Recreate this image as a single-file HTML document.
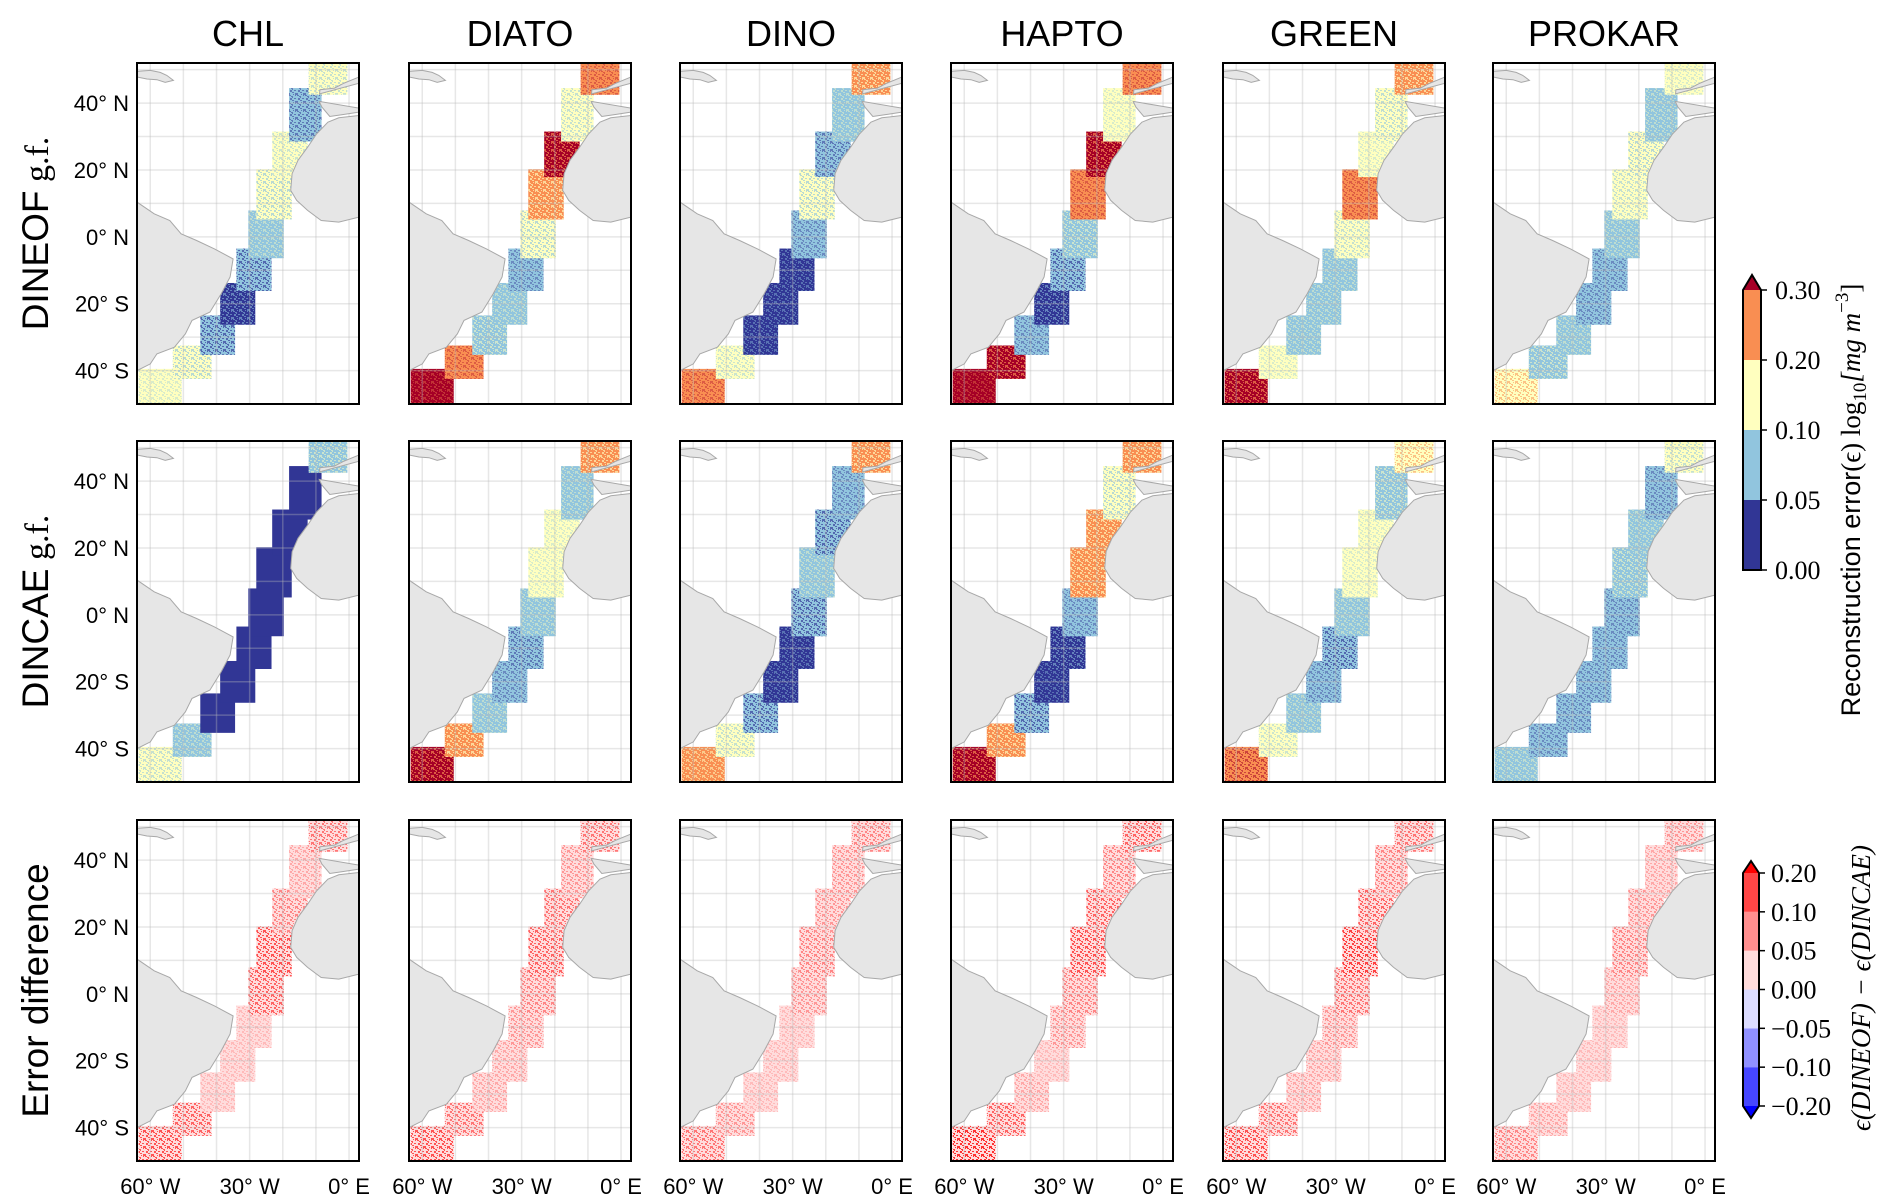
<!DOCTYPE html>
<html><head><meta charset="utf-8">
<style>
html,body{margin:0;padding:0;background:#fff;}
svg{display:block;}
.t{font-family:"Liberation Sans","DejaVu Sans",sans-serif;fill:#000;}
.s{font-family:"Liberation Serif","DejaVu Serif",serif;fill:#000;}
</style></head>
<body>
<svg id="fig" width="1892" height="1204" viewBox="0 0 1892 1204" xmlns="http://www.w3.org/2000/svg">
<defs id="defs"></defs>
</svg>
<script>
// ---- data ----
const columns = ["CHL","DIATO","DINO","HAPTO","GREEN","PROKAR"];
const rowLabels = ["DINEOF","DINCAE","Error difference"];
const latTicks = [40,20,0,-20,-40];
const latTickLabels = ["40° N","20° N","0° N","20° S","40° S"];
const lonTicks = [-60,-30,0];
const lonTickLabels = ["60° W","30° W","0° E"];
// tiles (bottom to top): lon/lat bounds
const tileLon0 = [-63.5,-53.2,-44.9,-38.9,-34,-30.4,-28,-23.2,-18.1,-12.2];
const tileLon1 = [-50.5,-41.5,-34.4,-28.3,-23.4,-19.7,-17.3,-12.5,-8.3,-0.5];
const tileLat0 = [-50.5,-42.5,-35.3,-26.3,-16.2,-6.4,5.2,17.9,28.5,42.5];
const tileLat1 = [-39.5,-32.5,-23.5,-13.8,-3.5,7.9,20.2,31.5,44.5,52];
// mean reconstruction error per tile, DINEOF
const dineofCHL   = [0.15,0.10,0.05,0.04,0.05,0.08,0.10,0.13,0.06,0.12];
const dineofDIATO = [0.35,0.25,0.09,0.08,0.07,0.10,0.20,0.30,0.12,0.25];
const dineofDINO  = [0.25,0.13,0.03,0.03,0.03,0.07,0.10,0.06,0.08,0.20];
const dineofHAPTO = [0.35,0.30,0.07,0.04,0.05,0.09,0.25,0.30,0.15,0.25];
const dineofGREEN = [0.30,0.15,0.08,0.08,0.08,0.12,0.25,0.15,0.11,0.20];
const dineofPROKAR= [0.18,0.09,0.08,0.07,0.07,0.08,0.12,0.10,0.08,0.15];
// DINCAE
const dincaeCHL   = [0.12,0.08,0.02,0.02,0.02,0.02,0.02,0.02,0.02,0.09];
const dincaeDIATO = [0.30,0.20,0.08,0.07,0.06,0.08,0.15,0.15,0.08,0.20];
const dincaeDINO  = [0.22,0.12,0.05,0.03,0.03,0.05,0.08,0.05,0.07,0.20];
const dincaeHAPTO = [0.30,0.20,0.05,0.03,0.04,0.07,0.20,0.20,0.10,0.20];
const dincaeGREEN = [0.28,0.13,0.08,0.07,0.05,0.08,0.15,0.15,0.09,0.18];
const dincaePROKAR= [0.08,0.07,0.07,0.07,0.07,0.07,0.09,0.08,0.07,0.12];
// error difference
const diffCHL   = [0.08,0.07,0.02,0.02,0.02,0.07,0.08,0.05,0.03,0.06];
const diffDIATO = [0.08,0.06,0.03,0.03,0.04,0.05,0.07,0.06,0.04,0.06];
const diffDINO  = [0.06,0.04,0.02,0.02,0.02,0.04,0.05,0.04,0.04,0.05];
const diffHAPTO = [0.10,0.07,0.03,0.02,0.04,0.05,0.08,0.07,0.05,0.07];
const diffGREEN = [0.08,0.06,0.03,0.03,0.04,0.06,0.09,0.07,0.05,0.06];
const diffPROKAR= [0.05,0.03,0.02,0.02,0.02,0.03,0.05,0.04,0.03,0.04];
const dineofAll = [dineofCHL,dineofDIATO,dineofDINO,dineofHAPTO,dineofGREEN,dineofPROKAR];
const dincaeAll = [dincaeCHL,dincaeDIATO,dincaeDINO,dincaeHAPTO,dincaeGREEN,dincaePROKAR];
const diffAll = [diffCHL,diffDIATO,diffDINO,diffHAPTO,diffGREEN,diffPROKAR];
const errTicks = [0.00,0.05,0.10,0.20,0.30];
const errTickLabels = ["0.00","0.05","0.10","0.20","0.30"];
const diffTicks = [-0.20,-0.10,-0.05,0.00,0.05,0.10,0.20];
const diffTickLabels = ["\u22120.20","\u22120.10","\u22120.05","0.00","0.05","0.10","0.20"];

// ---- layout ----
const NS="http://www.w3.org/2000/svg";
const svg=document.getElementById('fig');
const defs=document.getElementById('defs');
const colX=[137,409,680,951,1223,1493], rowY=[63,441,820], PW=222, PH=341;
const LON0=-64, LON1=3, LAT0=52, LAT1=-50;
function el(tag,attrs,parent){const e=document.createElementNS(NS,tag);for(const k in attrs)e.setAttribute(k,attrs[k]);(parent||svg).appendChild(e);return e;}
function xs(lon){return (lon-LON0)/(LON1-LON0)*PW;}
function ys(lat){return (LAT0-lat)/(LAT0-LAT1)*PH;}

const errColors=['#313695','#91c5de','#ffffbf','#f98e52','#a50026'];
function errClass(v){if(v<0.05)return 0;if(v<0.1)return 1;if(v<0.2)return 2;if(v<0.3)return 3;return 4;}
const errEdges=[0,0.05,0.1,0.2,0.3,0.4];
const diffColors=['#0000ff','#4646ff','#9090ff','#dcdcff','#ffdcdc','#ff8e8e','#ff4646','#ff0000'];

// speckle patterns
const speck=[[0,0,2,1],[3,1,1,2],[6,0,1,1],[1,3,2,2],[5,3,2,1],[0,6,1,2],[3,5,2,1],[6,6,2,2],[4,7,1,1],[2,1,1,1]];
function makePattern(id,color){
  const p=el('pattern',{id:id,width:8,height:8,patternUnits:'userSpaceOnUse'},defs);
  speck.forEach(s=>el('rect',{x:s[0],y:s[1],width:s[2],height:s[3],fill:color},p));
}
errColors.forEach((c,i)=>makePattern('pe'+i,c));
makePattern('pdr','#ff3030');

// land polygons [lon,lat]
const samer=[[-64,10.4],[-58.8,6.9],[-54.1,4.9],[-50.7,0.9],[-46,-1.1],[-40.6,-3.6],[-35,-6.6],[-35.9,-12],[-38.6,-17],[-42,-22.5],[-47.4,-25],[-49.4,-29],[-52.7,-33],[-58,-35],[-60,-38],[-64,-40]];
const africa=[[3,36.3],[-3.1,35.6],[-6.4,34.3],[-9.8,30.8],[-12.5,26.8],[-15.4,22.9],[-17.2,18.9],[-17.6,13.9],[-15.8,10.9],[-12.5,7.9],[-8.4,4.9],[-3.1,4.4],[3,5.9]];
const iberia=[[-8.9,42.8],[-8.8,44],[-4.4,44.5],[-1.5,46],[3,47.8],[3,37.3],[-1.7,36.6],[-5.8,36],[-8.2,38.8],[-9,40.5]];
const newf=[[-64,49.5],[-60,49.8],[-57,49.2],[-55,48.3],[-53,46.8],[-55.5,46.2],[-58,47],[-61,47.2],[-64,47.8]];

function drawPanel(r,c){
  const g=el('g',{transform:`translate(${colX[c]},${rowY[r]})`});
  
  
  const cid='clip'+r+'_'+c;
  const cp=el('clipPath',{id:cid},defs);el('rect',{x:0,y:0,width:PW,height:PH},cp);
  const inner=el('g',{'clip-path':`url(#${cid})`},g);
  el('rect',{x:0,y:0,width:PW,height:PH,fill:'#fff'},inner);
  const vals=r===0?dineofAll[c]:r===1?dincaeAll[c]:diffAll[c];
  for(let i=0;i<vals.length;i++){
    const x0=xs(tileLon0[i]),x1=xs(tileLon1[i]),y0=ys(tileLat1[i]),y1=ys(tileLat0[i]);
    const v=vals[i];
    let base,pat,op;
    if(r<2){const k=errClass(v);base=errColors[k];
      const f=Math.min(1,(v-errEdges[k])/(errEdges[k+1]-errEdges[k]));
      const nk=f>=0.5?Math.min(4,k+1):Math.max(0,k-1);
      pat='pe'+nk;op=0.35+Math.abs(f-0.5)*0.6;if(nk===k)op=0;}
    else{base='#ffdcdc';pat='pdr';op=Math.min(1,v/0.1);}
    const t=el('rect',{x:x0,y:y0,width:x1-x0,height:y1-y0,fill:base},inner);
    
    
    el('rect',{x:x0,y:y0,width:x1-x0,height:y1-y0,fill:`url(#${pat})`,opacity:op},inner);
  }
  // grid
  for(let lon=-60;lon<=0;lon+=10){el('line',{x1:xs(lon),x2:xs(lon),y1:0,y2:PH,stroke:'#bbb','stroke-opacity':0.35,'stroke-width':1.5},inner);}
  for(let lat=-40;lat<=50;lat+=10){el('line',{x1:0,x2:PW,y1:ys(lat),y2:ys(lat),stroke:'#bbb','stroke-opacity':0.35,'stroke-width':1.5},inner);}
  // land
  const lp=(pts)=>pts.map(p=>xs(p[0]).toFixed(1)+','+ys(p[1]).toFixed(1)).join(' ');
  const sa=samer.concat([[-70,-40],[-70,10.4]]);
  [[sa,'south-america'],[africa.concat([[10,5.9],[10,36.3]]),'africa'],[iberia.concat([[10,37.3],[10,47.8]]),'iberia'],[newf,'newfoundland']].forEach(([pts,n])=>{
    const p=el('polygon',{points:lp(pts),fill:'#e6e6e6',stroke:'#a8a8a8','stroke-width':1},inner);
    
    
  });
  el('rect',{x:0,y:0,width:PW,height:PH,fill:'none',stroke:'#000','stroke-width':2},g);
  if(c===0){
    latTicks.forEach((lat,i)=>{const t=el('text',{x:-8,y:ys(lat)+8,'text-anchor':'end','font-size':22,class:'t'},g);t.textContent=latTickLabels[i];
      });
  }
  if(r===2){
    lonTicks.forEach((lon,i)=>{const t=el('text',{x:xs(lon),y:PH+33,'text-anchor':'middle','font-size':22,class:'t'},g);t.textContent=lonTickLabels[i];
      });
  }
}
for(let r=0;r<3;r++)for(let c=0;c<6;c++)drawPanel(r,c);

// titles
columns.forEach((n,c)=>{const t=el('text',{x:colX[c]+PW/2,y:46,'text-anchor':'middle','font-size':36,class:'t'});t.textContent=n;
  });
function rowLabel(r,main,gf){
  const cy=rowY[r]+PH/2;
  const t=el('text',{x:0,y:0,'text-anchor':'middle','font-size':37,class:'t',transform:`translate(48,${cy}) rotate(-90)`});
  
  const a=el('tspan',{},t);a.textContent=main;
  if(gf){const b=el('tspan',{class:'s','font-size':34},t);b.textContent=' g.f.';}
}
rowLabel(0,'DINEOF',true);rowLabel(1,'DINCAE',true);rowLabel(2,'Error difference',false);

// colorbar 1
(function(){
  const g=el('g',{});
  const x=1743,w=18,top=290,bot=570;
  const pos=i=>bot-(i/(errTicks.length-1))*(bot-top);
  for(let i=0;i<errTicks.length-1;i++){el('rect',{x:x,y:pos(i+1),width:w,height:pos(i)-pos(i+1),fill:errColors[i]},g);}
  el('polygon',{points:`${x},${top} ${x+w},${top} ${x+w/2},${top-15}`,fill:errColors[4]},g);
  el('polygon',{points:`${x},${bot} ${x},${top} ${x+w/2},${top-15} ${x+w},${top} ${x+w},${bot}`,fill:'none',stroke:'#000','stroke-width':2},g);
  errTicks.forEach((v,i)=>{const y=pos(i);el('line',{x1:x+w,x2:x+w+6,y1:y,y2:y,stroke:'#000','stroke-width':1.5},g);
    const t=el('text',{x:x+w+14,y:y+9,'font-size':26,class:'s'},g);t.textContent=errTickLabels[i];
    });
  const t=el('text',{x:0,y:0,'text-anchor':'middle','font-size':27,class:'t',transform:'translate(1860,500) rotate(-90)'});
  
  const a=el('tspan',{},t);a.textContent='Reconstruction error';
  const b=el('tspan',{class:'s'},t);b.textContent='(\u03f5) log';
  const c=el('tspan',{class:'s','font-size':19,dy:6},t);c.textContent='10';
  const d=el('tspan',{class:'s','font-style':'italic',dy:-6},t);d.textContent='[mg m';
  const e=el('tspan',{class:'s','font-size':19,dy:-12},t);e.textContent='\u22123';
  const f=el('tspan',{class:'s',dy:12},t);f.textContent=']';
})();
// colorbar 2
(function(){
  const g=el('g',{});
  const x=1743,w=16,top=873,bot=1106;
  const pos=i=>bot-(i/(diffTicks.length-1))*(bot-top);
  for(let i=0;i<diffTicks.length-1;i++){el('rect',{x:x,y:pos(i+1),width:w,height:pos(i)-pos(i+1),fill:diffColors[i+1]},g);}
  el('polygon',{points:`${x},${top} ${x+w},${top} ${x+w/2},${top-12}`,fill:diffColors[7]},g);
  el('polygon',{points:`${x},${bot} ${x+w},${bot} ${x+w/2},${bot+12}`,fill:diffColors[0]},g);
  el('polygon',{points:`${x},${bot} ${x},${top} ${x+w/2},${top-12} ${x+w},${top} ${x+w},${bot} ${x+w/2},${bot+12}`,fill:'none',stroke:'#000','stroke-width':2},g);
  diffTicks.forEach((v,i)=>{const y=pos(i);el('line',{x1:x+w,x2:x+w+6,y1:y,y2:y,stroke:'#000','stroke-width':1.5},g);
    const t=el('text',{x:x+w+12,y:y+9,'font-size':26,class:'s'},g);t.textContent=diffTickLabels[i];
    });
  const t=el('text',{x:0,y:0,'text-anchor':'middle','font-size':27,class:'s','font-style':'italic',transform:'translate(1870,988) rotate(-90)'});
  
  t.textContent='\u03f5(DINEOF) \u2212 \u03f5(DINCAE)';
})();
</script>
</body></html>
